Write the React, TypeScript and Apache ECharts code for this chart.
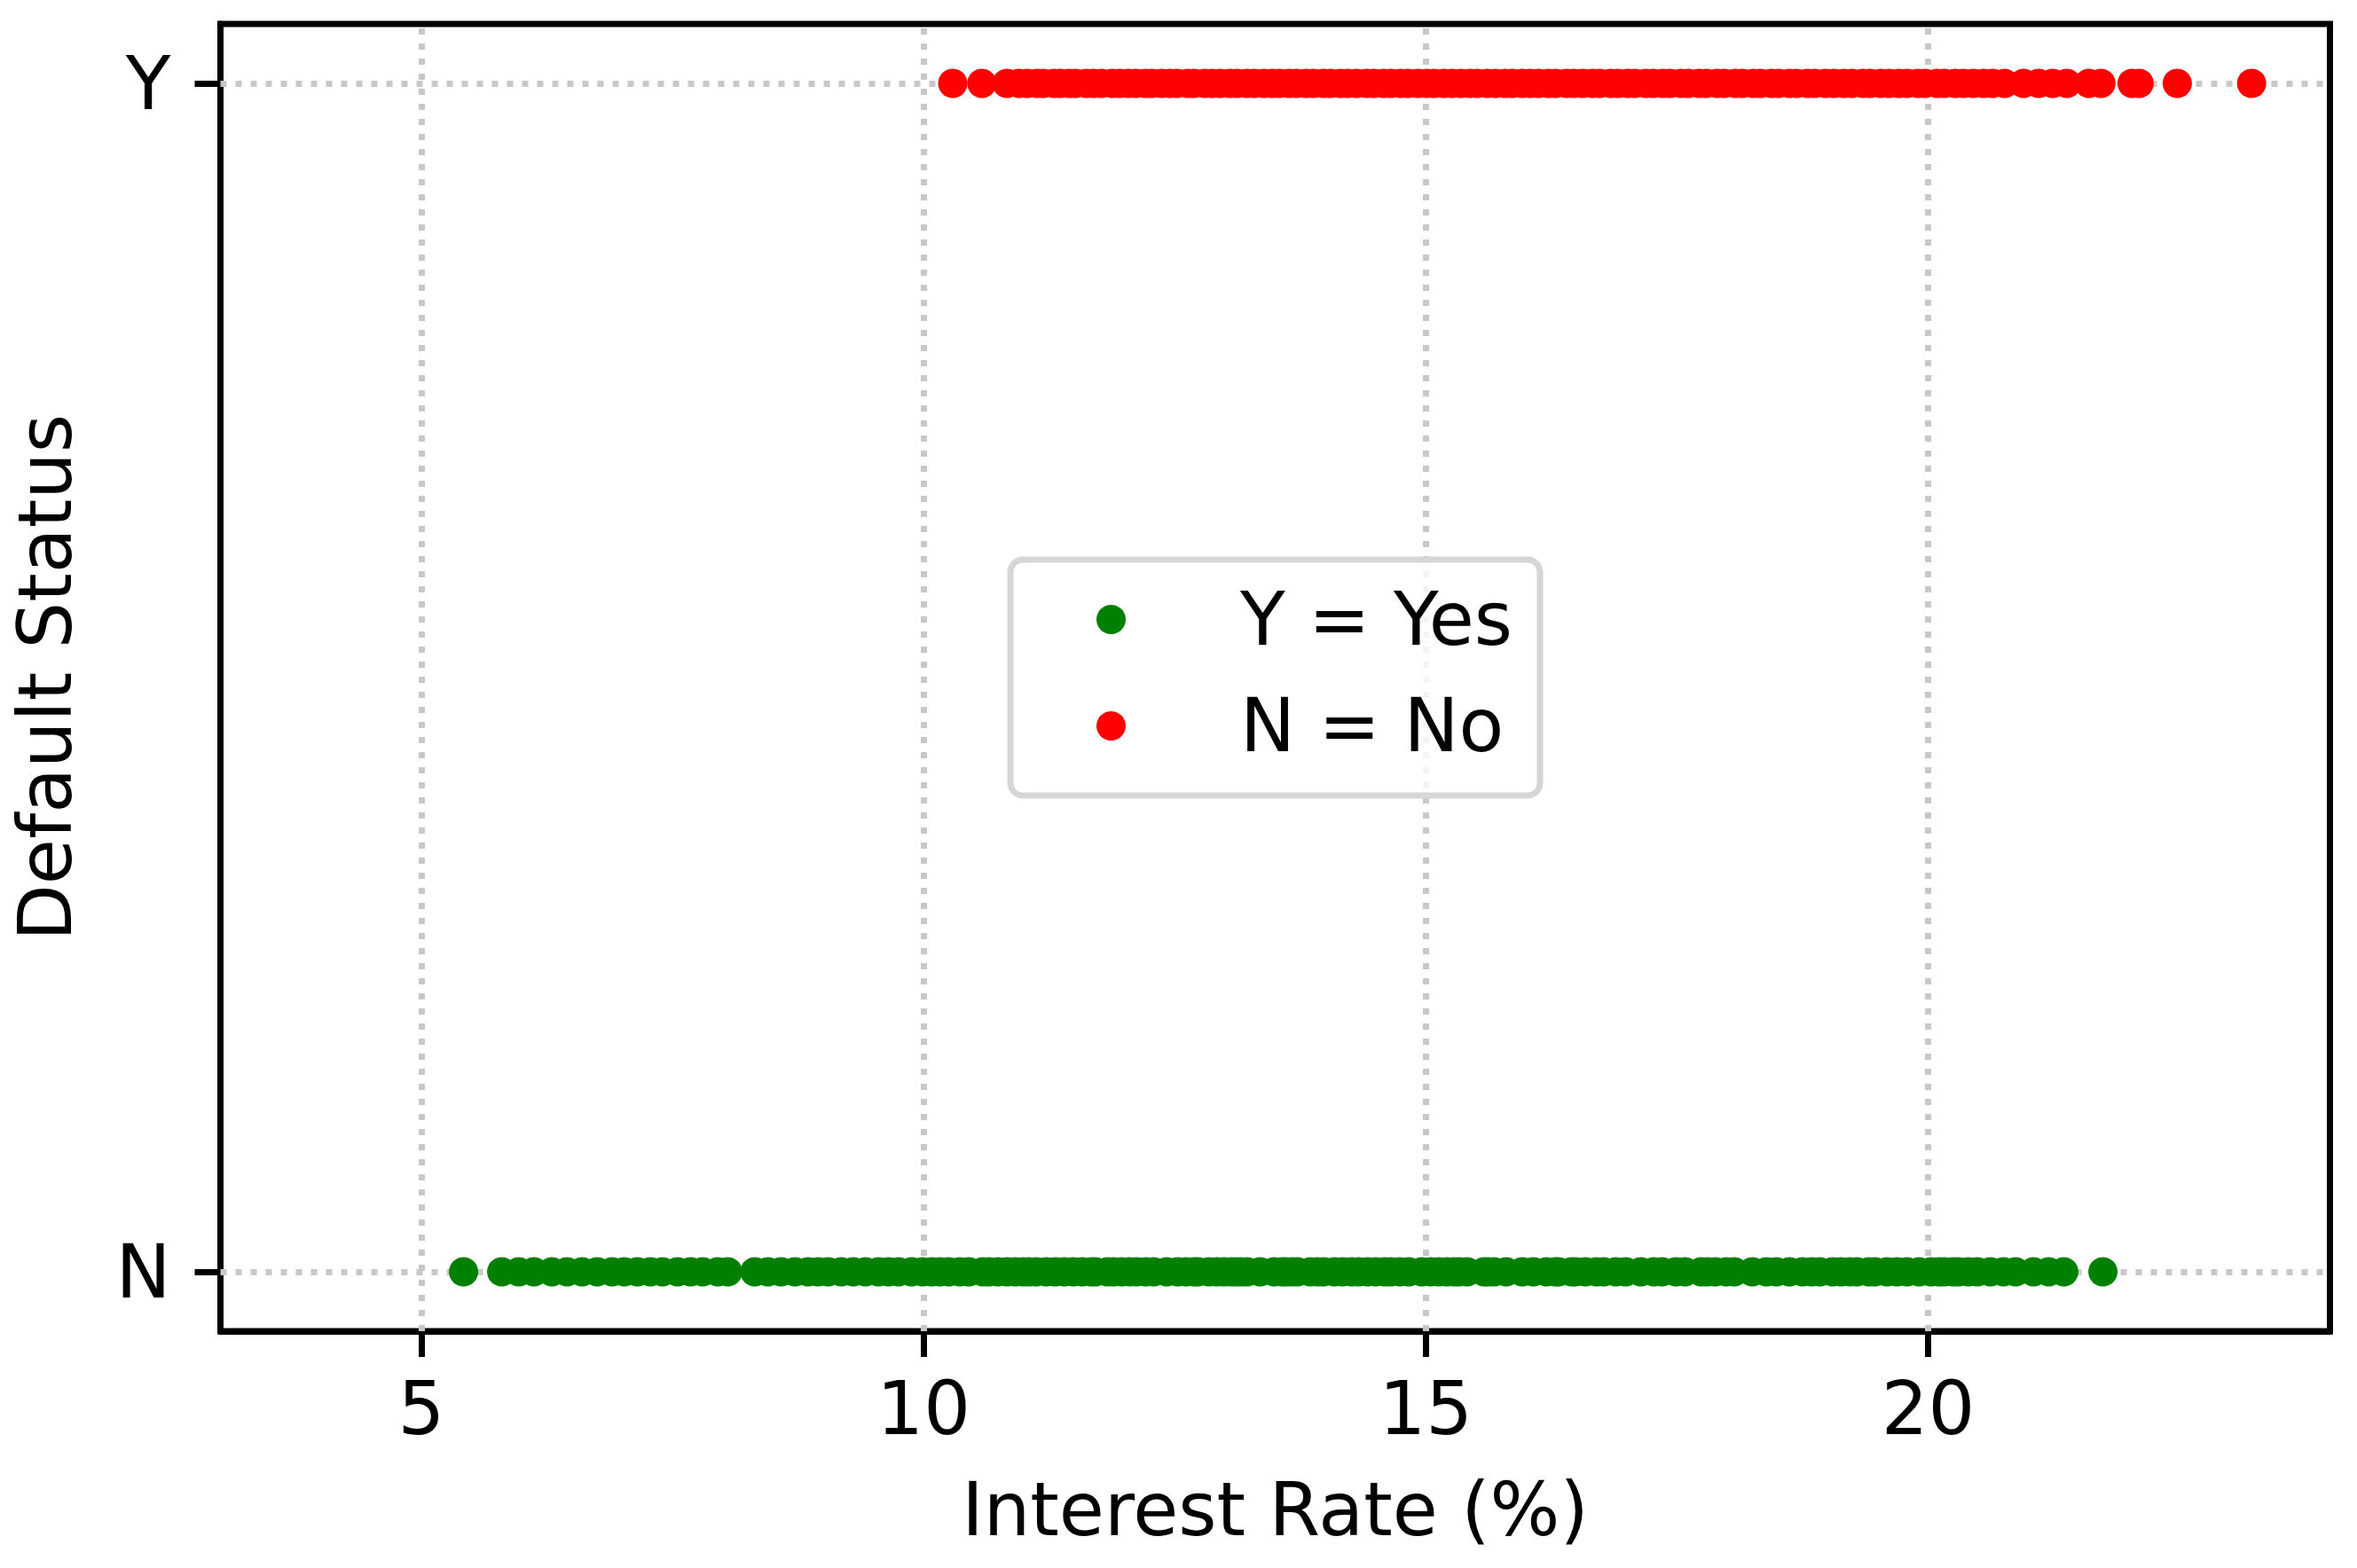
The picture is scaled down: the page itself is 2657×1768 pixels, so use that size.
import React, { useEffect, useRef } from "react";
import * as echarts from "echarts";

// Interest rates (%) of loans plotted on the "N" row (green, legend "Y = Yes")
const greenRates: number[] = [
  5.42, 5.80, 5.97, 6.12, 6.30, 6.45, 6.60, 6.75, 6.90, 7.02, 7.15, 7.28, 7.40, 7.55, 7.68, 7.80, 7.95, 8.05,
  8.32, 8.45, 8.58, 8.72, 8.85, 8.95, 9.05, 9.18, 9.30, 9.42, 9.55, 9.65, 9.75, 9.88, 9.99, 10.08, 10.16,
  10.25, 10.36, 10.45, 10.59, 10.65, 10.74, 10.83, 10.91, 10.99, 11.05, 11.12, 11.22, 11.31, 11.40, 11.49,
  11.58, 11.67, 11.71, 11.83, 11.89, 11.97, 12.05, 12.12, 12.21, 12.29, 12.42, 12.53, 12.61, 12.69, 12.73,
  12.84, 12.92, 12.99, 13.06, 13.11, 13.16, 13.22, 13.35, 13.49, 13.57, 13.61, 13.67, 13.72, 13.85, 13.92,
  13.98, 14.09, 14.17, 14.26, 14.33, 14.42, 14.50, 14.59, 14.65, 14.74, 14.83, 14.96, 15.05, 15.13, 15.21,
  15.28, 15.33, 15.41, 15.58, 15.62, 15.68, 15.80, 15.96, 16.07, 16.20, 16.29, 16.32, 16.45, 16.49, 16.59,
  16.70, 16.77, 16.89, 16.99, 17.14, 17.27, 17.35, 17.49, 17.58, 17.74, 17.80, 17.88, 17.99, 18.07, 18.25,
  18.39, 18.49, 18.62, 18.75, 18.84, 18.92, 19.05, 19.13, 19.22, 19.29, 19.41, 19.47, 19.59, 19.69, 19.79,
  19.91, 20.03, 20.11, 20.16, 20.25, 20.30, 20.40, 20.49, 20.62, 20.75, 20.87, 21.05, 21.20, 21.35, 21.74,
];

// Interest rates (%) of loans plotted on the "Y" row (red, legend "N = No")
const redRates: number[] = [
  10.29, 10.58, 10.83, 10.95, 11.03, 11.13, 11.19, 11.30, 11.36, 11.45, 11.51, 11.62, 11.69, 11.77, 11.88,
  11.95, 12.04, 12.11, 12.21, 12.27, 12.37, 12.45, 12.52, 12.63, 12.69, 12.80, 12.87, 12.95, 13.05, 13.12,
  13.22, 13.29, 13.39, 13.47, 13.54, 13.64, 13.71, 13.81, 13.88, 13.98, 14.05, 14.15, 14.22, 14.31, 14.41,
  14.48, 14.58, 14.65, 14.75, 14.82, 14.92, 15.01, 15.08, 15.18, 15.26, 15.35, 15.44, 15.51, 15.61, 15.69,
  15.79, 15.86, 15.96, 16.04, 16.12, 16.22, 16.29, 16.40, 16.47, 16.56, 16.66, 16.73, 16.84, 16.91, 17.01,
  17.08, 17.19, 17.26, 17.36, 17.43, 17.54, 17.61, 17.72, 17.79, 17.90, 17.97, 18.08, 18.15, 18.26, 18.33,
  18.44, 18.51, 18.62, 18.69, 18.80, 18.87, 18.98, 19.06, 19.16, 19.24, 19.35, 19.42, 19.53, 19.61, 19.71,
  19.79, 19.90, 19.97, 20.09, 20.16, 20.27, 20.35, 20.45, 20.55, 20.64, 20.76, 20.95, 21.10, 21.24, 21.38,
  21.60, 21.72, 22.03, 22.10, 22.48, 23.22,
];

const seriesNames = ["Y = Yes", "N = No"];
const seriesColors = ["#008000", "#ff0000"];
const yCategories = ["N", "Y"];
const xTicks = [5, 10, 15, 20];
const yTicks = [0, 1];
const xMin = 3;
const xMax = 24;

export default function App() {
  const ref = useRef<HTMLDivElement>(null);

  useEffect(() => {
    if (!ref.current) return;
    const chart = echarts.init(ref.current, null, { renderer: "svg" });
    const font = "DejaVu Sans";
    const gridStyle = { color: "#c8c8c8", width: 7, type: [7, 10] as number[] };
    const axisLineStyle = { color: "#000000", width: 7 };
    const plotLeft = 248.5;
    const plotRight = 2657 - 2626.5;
    const plotBottomY = 1501;

    chart.setOption({
      animation: false,
      backgroundColor: "#ffffff",
      textStyle: { fontFamily: font },
      grid: [
        {
          left: plotLeft,
          top: 27,
          right: plotRight,
          bottom: 1768 - plotBottomY,
          show: true,
          borderColor: "#000000",
          borderWidth: 7,
        },
        {
          // thin strip under the plot that carries the x tick marks
          left: plotLeft,
          right: plotRight,
          top: plotBottomY,
          height: 29,
          show: false,
        },
      ],
      legend: {
        orient: "vertical",
        left: 1139,
        top: 631,
        padding: [26, 31, 37, 97],
        itemGap: 37,
        itemWidth: 33,
        itemHeight: 33,
        icon: "circle",
        selectedMode: false,
        backgroundColor: "rgba(255,255,255,0.8)",
        borderColor: "#d6d6d6",
        borderWidth: 7,
        borderRadius: 14,
        data: seriesNames,
        textStyle: {
          fontFamily: font,
          fontSize: 83,
          lineHeight: 83,
          color: "#000000",
          padding: [0, 0, 0, 124],
        },
      },
      xAxis: [
        {
          type: "value",
          gridIndex: 0,
          position: "bottom",
          min: xMin,
          max: xMax,
          name: "Interest Rate (%)",
          nameLocation: "middle",
          nameGap: 160,
          nameTextStyle: { fontFamily: font, fontSize: 83, color: "#000000" },
          axisLine: { show: true, onZero: false, lineStyle: axisLineStyle },
          splitLine: { show: false },
          axisTick: {
            show: true,
            inside: false,
            length: 29,
            customValues: xTicks,
            lineStyle: { color: "#000000", width: 7 },
          },
          axisLabel: {
            customValues: xTicks,
            margin: 46,
            fontFamily: font,
            fontSize: 83,
            color: "#000000",
          },
        },
        {
          type: "value",
          gridIndex: 1,
          min: xMin,
          max: xMax,
          show: false,
        },
      ],
      yAxis: [
        {
          type: "value",
          gridIndex: 0,
          position: "left",
          min: -0.05,
          max: 1.05,
          name: "Default Status",
          nameLocation: "middle",
          nameGap: 156,
          nameTextStyle: { fontFamily: font, fontSize: 83, color: "#000000" },
          axisLine: { show: true, onZero: false, lineStyle: axisLineStyle },
          splitLine: { show: false },
          axisTick: {
            show: true,
            inside: false,
            length: 29,
            customValues: yTicks,
            lineStyle: { color: "#000000", width: 7 },
          },
          axisLabel: {
            customValues: yTicks,
            margin: 56,
            fontFamily: font,
            fontSize: 83,
            color: "#000000",
            formatter: (v: number) => yCategories[Math.round(v)] ?? "",
          },
        },
        {
          type: "value",
          gridIndex: 1,
          min: 0,
          max: 1,
          show: false,
        },
      ],
      series: [
        {
          name: seriesNames[0],
          type: "scatter",
          symbol: "circle",
          symbolSize: 33,
          z: 3,
          itemStyle: { color: seriesColors[0], opacity: 1 },
          data: greenRates.map((r) => [r, 0]),
          markLine: {
            silent: true,
            z: 1,
            symbol: "none",
            label: { show: false },
            lineStyle: gridStyle,
            data: [
              ...xTicks.map((t) => ({ xAxis: t })),
              ...yTicks.map((t) => ({ yAxis: t })),
            ],
          },
        },
        {
          name: seriesNames[1],
          type: "scatter",
          symbol: "circle",
          symbolSize: 33,
          z: 3,
          itemStyle: { color: seriesColors[1], opacity: 1 },
          data: redRates.map((r) => [r, 1]),
        },
        {
          name: "xTickMarks",
          type: "scatter",
          xAxisIndex: 1,
          yAxisIndex: 1,
          data: [],
          markLine: {
            silent: true,
            z: 10,
            symbol: "none",
            label: { show: false },
            lineStyle: { color: "#000000", width: 7, type: "solid" },
            data: xTicks.map((t) => ({ xAxis: t })),
          },
        },
      ],
    });

    return () => chart.dispose();
  }, []);

  return (
    <div
      ref={ref}
      style={{ position: "absolute", left: 0, top: 0, width: 2657, height: 1768 }}
    />
  );
}
